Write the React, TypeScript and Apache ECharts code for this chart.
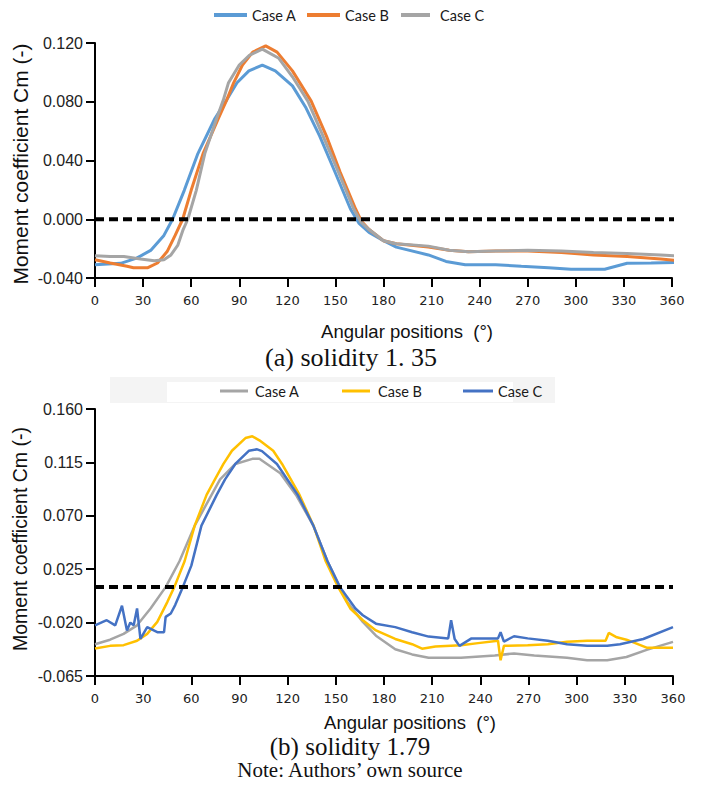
import React, { useEffect, useRef } from "react";
import * as echarts from "echarts";

// ---------- tick labels ----------
const xTicks = [0, 30, 60, 90, 120, 150, 180, 210, 240, 270, 300, 330, 360];
const yTicksA = [-0.04, 0, 0.04, 0.08, 0.12];
const yTicksB = [-0.065, -0.02, 0.025, 0.07, 0.115, 0.16];

// ---------- reference (dashed) lines ----------
const zeroLineA = 0;
const refLineB = 0.01;

// ---------- categories ----------
const caseNames = ["Case A", "Case B", "Case C"];
const colorsA = ["#5B9BD5", "#ED7D31", "#A5A5A5"];
const colorsB = ["#A5A5A5", "#FFC000", "#4472C4"];

// ---------- (a) solidity 1.35 ----------
const a_caseA: [number, number][] = [
  [0, -0.031], [16, -0.030], [26, -0.0265], [35, -0.021], [43, -0.011], [48.4, 0],
  [55.7, 0.0197], [64.2, 0.0447], [74.8, 0.0686], [82.2, 0.0813], [88.6, 0.0929],
  [96, 0.101], [104.4, 0.105], [112.5, 0.101], [123.2, 0.0908], [131.7, 0.0757],
  [140.2, 0.0566], [149.8, 0.032], [159.4, 0.007], [164.6, -0.0026], [171, -0.009],
  [180, -0.0146], [188, -0.019], [208, -0.0243], [219, -0.0287], [231, -0.031],
  [250, -0.031], [266, -0.032], [283, -0.033], [297, -0.034], [318, -0.034],
  [332, -0.030], [347, -0.0298], [369, -0.0293],
];
const a_caseB: [number, number][] = [
  [0, -0.0276], [9.5, -0.0298], [20, -0.032], [24, -0.033], [33, -0.033], [39, -0.0298],
  [45, -0.022], [50, -0.011], [54.7, 0], [60, 0.0197], [67.4, 0.0447], [77, 0.0686],
  [82.2, 0.0813], [86.5, 0.0929], [92, 0.105], [98.4, 0.1138], [106.5, 0.118],
  [113.6, 0.1138], [123.2, 0.101], [134.9, 0.0804], [144.4, 0.0566], [153, 0.032],
  [162.6, 0.007], [166, -0.001], [171, -0.007], [180, -0.0146], [188, -0.0167],
  [208, -0.0189], [221, -0.0211], [233, -0.0222], [250, -0.0217], [270, -0.0217],
  [291, -0.0226], [311, -0.0243], [332, -0.0254], [353, -0.027], [369, -0.0287],
];
const a_caseC: [number, number][] = [
  [0, -0.0248], [9.5, -0.0254], [18, -0.0254], [28.4, -0.027], [37, -0.0283], [43, -0.0276],
  [47.4, -0.0243], [51.6, -0.0178], [55, -0.007], [57.9, 0], [63.2, 0.0197], [68.5, 0.0447],
  [75.9, 0.0686], [80.1, 0.0813], [83.3, 0.093], [90, 0.105], [96.3, 0.1116],
  [104.4, 0.1158], [114.7, 0.1096], [123.2, 0.097], [132.8, 0.0804], [142.3, 0.0566],
  [151.9, 0.032], [161.4, 0.007], [166, -0.002], [171, -0.007], [180, -0.0146],
  [188, -0.0167], [208, -0.0183], [221, -0.0211], [233, -0.0222], [250, -0.0217],
  [270, -0.0211], [291, -0.0217], [311, -0.0226], [332, -0.0233], [353, -0.0243],
  [369, -0.0254],
];

// ---------- (b) solidity 1.79 ----------
const b_caseA: [number, number][] = [
  [0, -0.0382], [9.4, -0.0344], [17.8, -0.0295], [26.2, -0.0223], [34.6, -0.0081],
  [44.2, 0.0103], [52.6, 0.0317], [62.1, 0.0617], [72.6, 0.0876], [77.9, 0.1007],
  [87.4, 0.1137], [98, 0.118], [102.4, 0.118], [115.4, 0.1059], [125.2, 0.0876],
  [136, 0.0617], [144.8, 0.0317], [152.4, 0.0103], [157, -0.0025], [166.8, -0.0194],
  [175, -0.031], [187, -0.0425], [197.5, -0.0468], [207.8, -0.0497], [228, -0.0497],
  [249, -0.0477], [261, -0.046], [273.6, -0.0477], [294, -0.0497], [306.5, -0.0517],
  [319, -0.0517], [331, -0.049], [343.6, -0.043], [360, -0.0362],
];
const b_caseB: [number, number][] = [
  [0, -0.0419], [9.4, -0.0396], [17.8, -0.039], [26.2, -0.0353], [32.5, -0.0295],
  [38.8, -0.0194], [45.1, -0.0025], [49.5, 0.0103], [55.8, 0.0317], [62.1, 0.0617],
  [69.5, 0.0876], [74.7, 0.1007], [80, 0.1137], [85.3, 0.1248], [93.7, 0.1355],
  [98, 0.137], [102.4, 0.1336], [111, 0.1248], [116.5, 0.1137], [127.4, 0.0876],
  [136.1, 0.0617], [143.7, 0.0317], [151.3, 0.0103], [159, -0.0081], [166.8, -0.018],
  [175, -0.0266], [187, -0.0338], [197.5, -0.0382], [203.7, -0.042], [212, -0.0402],
  [228, -0.039], [238.6, -0.0373], [251, -0.0353], [252.6, -0.0517], [254.7, -0.0396],
  [269.5, -0.039], [282, -0.0382], [294, -0.0362], [306.5, -0.0353], [318, -0.0353],
  [320, -0.0287], [325, -0.0324], [331, -0.0344], [343.6, -0.0411], [360, -0.0411],
];
const b_caseC: [number, number][] = [
  [0, -0.0223], [7.3, -0.018], [12.6, -0.0223], [16.8, -0.0058], [19.9, -0.0266],
  [22, -0.020], [24.1, -0.0223], [26.2, -0.0081], [28.3, -0.0338], [32.5, -0.0238],
  [38.8, -0.0281], [43, -0.0281], [44, -0.0152], [47.2, -0.0123], [50, -0.005],
  [54.8, 0.0103], [60, 0.028], [66.3, 0.0617], [75.8, 0.0876], [81, 0.1007],
  [87.4, 0.1137], [95.8, 0.1248], [101, 0.126], [104, 0.1245], [113.3, 0.1137],
  [126.3, 0.0876], [136, 0.0617], [144.8, 0.0317], [152.4, 0.0103], [162.2, -0.0081],
  [166.8, -0.0138], [175, -0.0209], [187, -0.0238], [197.5, -0.0281], [207.8, -0.0318],
  [220, -0.0333], [221.8, -0.018], [224, -0.0338], [227, -0.0396], [234.5, -0.0333],
  [251, -0.0333], [252.6, -0.0281], [254.7, -0.036], [261, -0.0315], [269.5, -0.0333],
  [282, -0.0353], [294, -0.0382], [306.5, -0.0396], [319, -0.0396], [327, -0.0382],
  [341.5, -0.0338], [360, -0.0238],
];

const seriesDataA = [a_caseA, a_caseB, a_caseC];
const seriesDataB = [b_caseA, b_caseB, b_caseC];

export default function App() {
  const ref = useRef<HTMLDivElement>(null);

  useEffect(() => {
    if (!ref.current) return;
    const chart = echarts.init(ref.current, undefined, { renderer: "svg" });

    const sans = "'Liberation Sans', Arial, sans-serif";
    const serif = "'Liberation Serif', 'Times New Roman', serif";
    const axisLine = { show: true, onZero: false, lineStyle: { color: "#000", width: 2 } };
    const tick = (vals: number[]) => ({
      show: true,
      inside: false,
      length: 9,
      customValues: vals,
      lineStyle: { color: "#000", width: 2 },
    });
    const xLabel = {
      customValues: xTicks,
      fontFamily: "'DejaVu Sans', Verdana, sans-serif",
      fontSize: 13,
      color: "#222",
      margin: 16,
    };
    const yLabel = (vals: number[]) => ({
      customValues: vals,
      formatter: (v: number) => v.toFixed(3),
      fontFamily: sans,
      fontSize: 16,
      color: "#222",
      margin: 12,
    });

    const lastXA = a_caseA[a_caseA.length - 1][0];
    const dashStyle = { color: "#000", type: [9, 5] as number[], width: 4 };

    const series: any[] = [];
    // dashed reference line of panel (a), running to the end of the curves
    series.push({
      type: "line",
      name: "ref-a",
      xAxisIndex: 0,
      yAxisIndex: 0,
      data: [
        [0, zeroLineA],
        [lastXA, zeroLineA],
      ],
      showSymbol: false,
      symbol: "none",
      clip: false,
      silent: true,
      lineStyle: dashStyle,
      z: 5,
    });
    seriesDataA.forEach((d, i) => {
      series.push({
        type: "line",
        name: caseNames[i],
        xAxisIndex: 0,
        yAxisIndex: 0,
        data: d,
        showSymbol: false,
        symbol: "none",
        clip: false,
        lineStyle: { color: colorsA[i], width: 3 },
        z: 3,
      });
    });
    seriesDataB.forEach((d, i) => {
      series.push({
        type: "line",
        name: caseNames[i],
        xAxisIndex: 1,
        yAxisIndex: 1,
        data: d,
        showSymbol: false,
        symbol: "none",
        lineStyle: { color: colorsB[i], width: 2.5 },
        z: 3,
        markLine:
          i === 0
            ? {
                silent: true,
                symbol: ["none", "none"],
                label: { show: false },
                lineStyle: dashStyle,
                data: [{ yAxis: refLineB }],
                z: 5,
              }
            : undefined,
      });
    });

    const legendItems = (
      y: number,
      colors: string[],
      lines: [number, number][],
      textX: number[],
      lw: number
    ) => {
      const els: any[] = [];
      caseNames.forEach((n, i) => {
        els.push({
          type: "line",
          shape: { x1: lines[i][0], y1: y, x2: lines[i][1], y2: y },
          style: { stroke: colors[i], lineWidth: lw },
        });
        els.push({
          type: "text",
          x: textX[i],
          y,
          style: {
            text: n,
            fontFamily: "Lato, 'Open Sans', sans-serif",
            fontSize: 14.5,
            fill: "#1a1a1a",
            align: "left",
            verticalAlign: "middle",
          },
        });
      });
      return els;
    };

    const txt = (
      text: string,
      x: number,
      y: number,
      fontFamily: string,
      fontSize: number,
      rotation = 0
    ) => ({
      type: "text",
      x,
      y,
      rotation,
      style: {
        text,
        fontFamily,
        fontSize,
        fill: "#111",
        align: "center",
        verticalAlign: "middle",
      },
    });

    const graphic: any[] = [
      // faint background band behind legend (b)
      { type: "rect", shape: { x: 110, y: 377, width: 445, height: 26 }, style: { fill: "#f4f4f4" }, z: -1 },
      { type: "rect", shape: { x: 167, y: 382, width: 346, height: 20 }, style: { fill: "#ffffff" }, z: -1 },
      ...legendItems(15, colorsA, [[214, 247], [307, 340], [401, 430]], [252, 345, 440], 4),
      ...legendItems(391, colorsB, [[220, 248], [342, 370], [463, 493]], [255, 378, 498], 3),
      txt("Moment coefficient Cm (-)", 20, 164, sans, 21, Math.PI / 2),
      txt("Moment coefficient Cm (-)", 20, 539, sans, 19.5, Math.PI / 2),
      txt("Angular positions  (°)", 407, 331, sans, 18.5),
      txt("Angular positions  (°)", 410, 722, sans, 18.5),
      txt("(a) solidity 1. 35", 351, 357, serif, 26),
      txt("(b) solidity 1.79", 350, 746, serif, 25),
      txt("Note: Authors’ own source", 350, 770, serif, 21),
    ];

    chart.setOption({
      animation: false,
      backgroundColor: "#ffffff",
      grid: [
        { left: 95, top: 43, width: 577, height: 235 },
        { left: 95, top: 409, width: 578, height: 267 },
      ],
      xAxis: [
        {
          type: "value",
          gridIndex: 0,
          min: 0,
          max: 360,
          axisLine,
          axisTick: tick(xTicks),
          axisLabel: xLabel,
          splitLine: { show: false },
        },
        {
          type: "value",
          gridIndex: 1,
          min: 0,
          max: 360,
          axisLine,
          axisTick: tick(xTicks),
          axisLabel: xLabel,
          splitLine: { show: false },
        },
      ],
      yAxis: [
        {
          type: "value",
          gridIndex: 0,
          min: -0.04,
          max: 0.12,
          axisLine,
          axisTick: tick(yTicksA),
          axisLabel: yLabel(yTicksA),
          splitLine: { show: false },
        },
        {
          type: "value",
          gridIndex: 1,
          min: -0.065,
          max: 0.16,
          axisLine,
          axisTick: tick(yTicksB),
          axisLabel: yLabel(yTicksB),
          splitLine: { show: false },
        },
      ],
      series,
      graphic,
    });

    return () => {
      chart.dispose();
    };
  }, []);

  return (
    <div
      ref={ref}
      style={{ position: "absolute", left: 0, top: 0, width: 720, height: 797, background: "#fff" }}
    />
  );
}
